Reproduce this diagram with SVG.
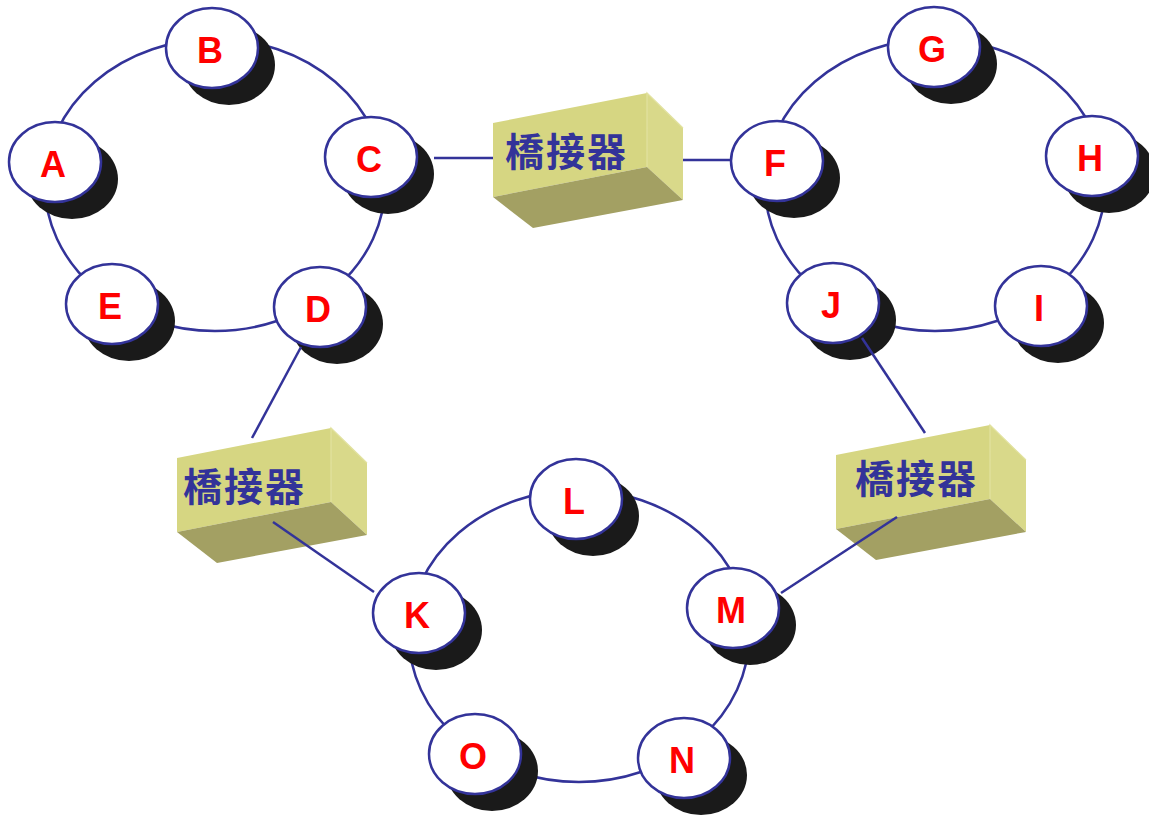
<svg xmlns="http://www.w3.org/2000/svg" width="1149" height="819" viewBox="0 0 1149 819">
<style>
.ring{fill:none;stroke:#333399;stroke-width:2.5}
.link{stroke:#333399;stroke-width:2.5;fill:none}
.sh{fill:#1a1a1a}
.nd{fill:#ffffff;stroke:#333399;stroke-width:2.5}
.lb{font-family:"Liberation Sans",Arial,sans-serif;font-weight:bold;font-size:36px;fill:#ff0000;text-anchor:middle}
.front{fill:#d6d682}
.side{fill:#d9d98a}
.bot{fill:#a3a063}
.edge{fill:none;stroke:#e2e2a0;stroke-width:1.2}
.bt{font-family:"Noto Sans CJK TC","Noto Sans CJK SC",sans-serif;font-weight:bold;font-size:39px;fill:#333399;letter-spacing:2px}
</style>
<defs>
<g id="box">
<polygon class="front" points="0,0 154,-30 154,44 0,74"/>
<polygon class="side" points="154,-30 190,5 190,77 154,44"/>
<polygon class="bot" points="0,74 154,44 190,77 40,105"/>
<polyline class="edge" points="154,44 154,-30 190,5"/>
</g>
<g id="sd"><ellipse class="sh" cx="17" cy="17" rx="46" ry="40"/><ellipse class="nd" cx="0" cy="0" rx="46" ry="40"/></g>
</defs>
<g id="rings">
<ellipse class="ring" cx="215" cy="185" rx="170" ry="146"/>
<ellipse class="ring" cx="935" cy="185" rx="170" ry="146"/>
<ellipse class="ring" cx="579" cy="636" rx="170" ry="146"/>
</g>
<g id="bridge1"><use href="#box" x="493" y="123"/><text class="bt" x="505" y="166">橋接器</text></g>
<g id="bridge2"><use href="#box" x="177" y="458"/><text class="bt" x="183" y="501">橋接器</text></g>
<g id="bridge3"><use href="#box" x="836" y="455"/><text class="bt" x="855" y="493">橋接器</text></g>
<g id="nodeA"><use href="#sd" x="55" y="162"/><text class="lb" x="53" y="177">A</text></g>
<g id="nodeB"><use href="#sd" x="212" y="48"/><text class="lb" x="210" y="63">B</text></g>
<g id="nodeC"><use href="#sd" x="371" y="157"/><text class="lb" x="369" y="172">C</text></g>
<g id="nodeD"><use href="#sd" x="320" y="307"/><text class="lb" x="318" y="322">D</text></g>
<g id="nodeE"><use href="#sd" x="112" y="304"/><text class="lb" x="110" y="319">E</text></g>
<g id="nodeF"><use href="#sd" x="777" y="161"/><text class="lb" x="775" y="176">F</text></g>
<g id="nodeG"><use href="#sd" x="934" y="47"/><text class="lb" x="932" y="62">G</text></g>
<g id="nodeH"><use href="#sd" x="1092" y="156"/><text class="lb" x="1090" y="171">H</text></g>
<g id="nodeI"><use href="#sd" x="1041" y="306"/><text class="lb" x="1039" y="321">I</text></g>
<g id="nodeJ"><use href="#sd" x="833" y="303"/><text class="lb" x="831" y="318">J</text></g>
<g id="nodeK"><use href="#sd" x="419" y="613"/><text class="lb" x="417" y="628">K</text></g>
<g id="nodeL"><use href="#sd" x="576" y="499"/><text class="lb" x="574" y="514">L</text></g>
<g id="nodeM"><use href="#sd" x="733" y="608"/><text class="lb" x="731" y="623">M</text></g>
<g id="nodeN"><use href="#sd" x="684" y="758"/><text class="lb" x="682" y="773">N</text></g>
<g id="nodeO"><use href="#sd" x="475" y="754"/><text class="lb" x="473" y="769">O</text></g>
<g id="connectors">
<line class="link" x1="434" y1="158" x2="493" y2="158"/>
<line class="link" x1="683" y1="160" x2="732" y2="160"/>
<line class="link" x1="301" y1="347" x2="252" y2="438"/>
<line class="link" x1="273" y1="522" x2="374" y2="592"/>
<line class="link" x1="862" y1="338" x2="925" y2="433"/>
<line class="link" x1="897" y1="517" x2="781" y2="593"/>
</g>
</svg>
